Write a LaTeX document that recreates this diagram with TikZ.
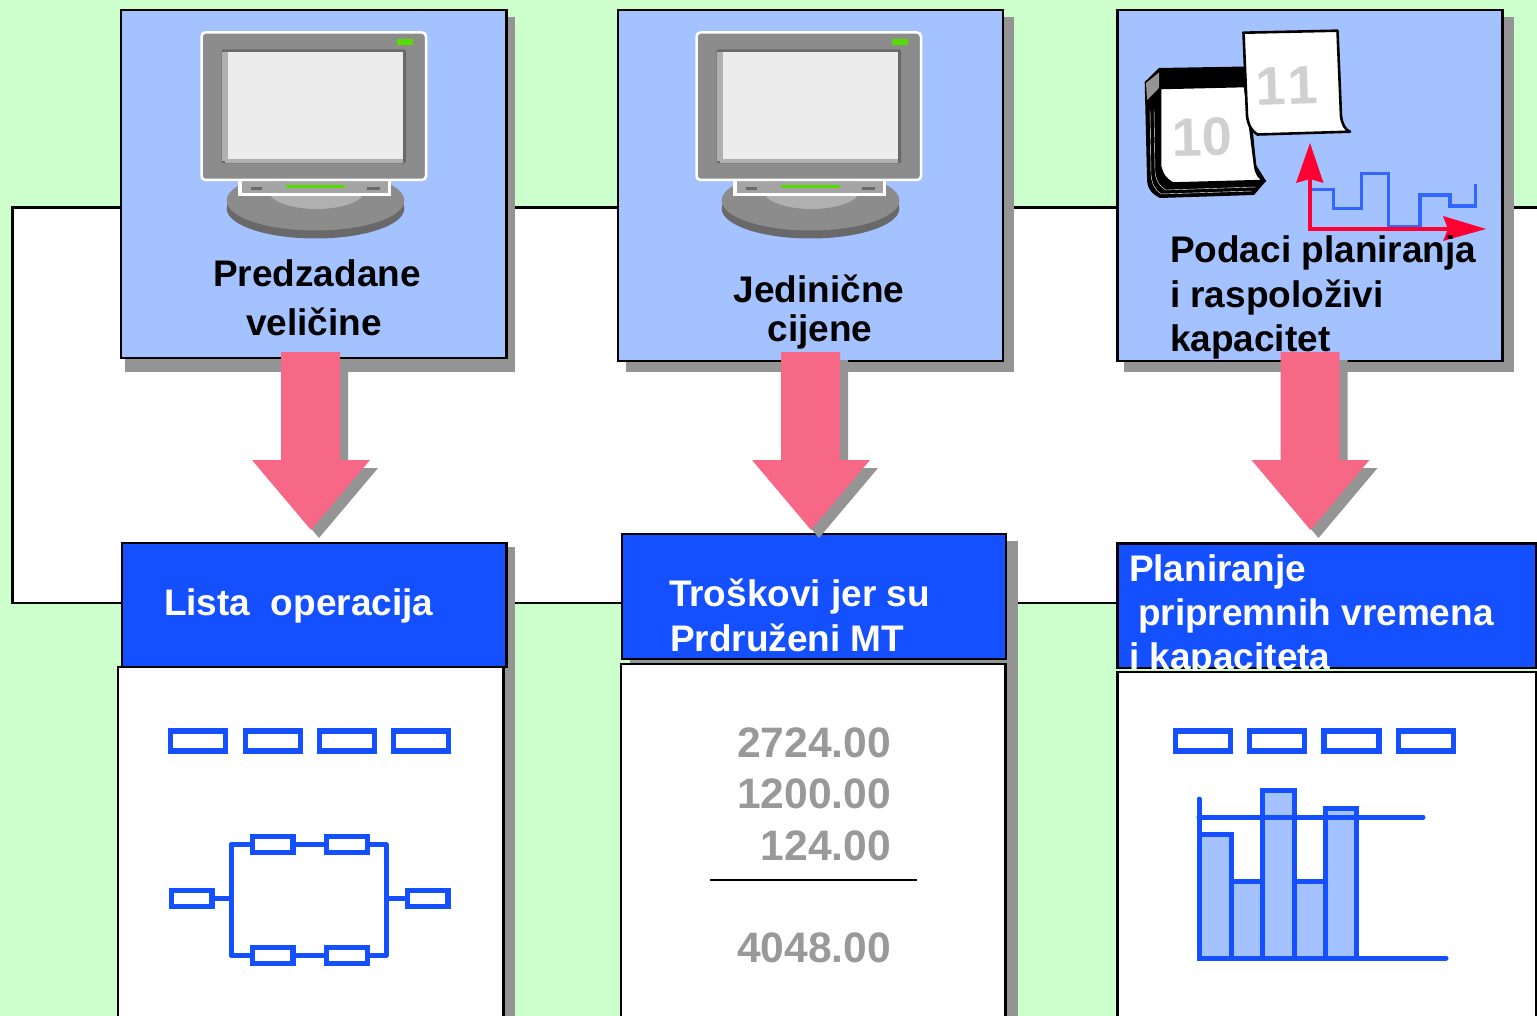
\documentclass[tikz,border=0pt]{standalone}
\usepackage{fontspec}
\setmainfont{Liberation Sans}
\definecolor{bggreen}{HTML}{CCFFCC}
\definecolor{panelblue}{HTML}{A3C2FF}
\definecolor{headblue}{HTML}{1450FF}
\definecolor{dropgray}{HTML}{949494}
\definecolor{pinkarrow}{HTML}{F76886}
\definecolor{stepblue}{HTML}{3366FF}
\definecolor{redaxis}{HTML}{FF0033}
\definecolor{mongray}{HTML}{8C8C8C}
\definecolor{mondark}{HTML}{696969}
\definecolor{monlight}{HTML}{B0B0B0}
\definecolor{monscreen}{HTML}{ECECEC}
\definecolor{ledgreen}{HTML}{55DD00}
\definecolor{numgray}{HTML}{999999}
\definecolor{daygray}{HTML}{D0D0D0}
\tikzset{
  panel/.style={draw=black,line width=1.3pt,fill=panelblue},
  header/.style={draw=black,line width=1.3pt,fill=headblue},
  sheet/.style={draw=black,line width=1.3pt,fill=white},
  shadowbox/.style={fill=dropgray,draw=none},
  label/.style={inner sep=0pt,outer sep=0pt,font=\bfseries\fontsize{18.5}{20}\selectfont},
  whitelabel/.style={label,text=white},
  numlabel/.style={inner sep=0pt,outer sep=0pt,text=numgray,font=\bfseries\fontsize{21.3}{24}\selectfont},
  daylabel/.style={inner sep=0pt,outer sep=0pt,text=daygray,font=\bfseries\fontsize{27}{28}\selectfont},
  tabbox/.style={draw=headblue,line width=2.9pt,fill=white,minimum width=27.5pt,minimum height=10pt,inner sep=0pt},
  netbox/.style={draw=headblue,line width=2.6pt,fill=white,minimum width=20.4pt,minimum height=8.2pt,inner sep=0pt},
  netline/.style={draw=headblue,line width=2.5pt},
  chartbar/.style={draw=headblue,line width=2.5pt,fill=panelblue},
  chartline/.style={draw=headblue,line width=2.5pt,line cap=round},
  pagesheet/.style={draw=black,line width=1.3pt,fill=white,line join=round},
}
\newcommand{\monitorpic}[1]{%
\begin{scope}[shift={(#1,0)}]
  \fill[mondark] (315.5,208.5) ellipse [x radius=88.8,y radius=30];
  \fill[mongray] (315.5,200.5) ellipse [x radius=88.8,y radius=30];
  \fill[monlight] (316.5,190) ellipse [x radius=48.5,y radius=19];
  \fill[white] (238.3,178) rectangle (390.7,195.7);
  \fill[dropgray!85!white] (241.5,178) rectangle (387.5,193.3);
  \fill[ledgreen] (286,185) rectangle (345,187.7);
  \fill[mondark] (251,187) rectangle (262,190);
  \fill[mondark] (367,187) rectangle (380,190);
  \draw[white,line width=1.25pt,fill=mongray,rounded corners=2pt] (201.5,32.5) rectangle (426,180);
  \fill[mondark,rounded corners=1pt] (221.7,49.3) rectangle (406,163.3);
  \fill[monlight] (221.7,52.3) rectangle (227.7,161);
  \fill[monlight] (225,159) rectangle (402.7,163);
  \fill[monscreen] (227.7,52.3) rectangle (402.7,159.3);
  \fill[ledgreen] (396.7,39) rectangle (413.3,45);
\end{scope}}
\newcommand{\bigarrow}[1]{%
\begin{scope}[shift={(#1,0)}]
  \fill[dropgray] (289,360) -- (348,360) -- (348,468) -- (378,468) -- (319,538) -- (260,468) -- (289,468) -- cycle;
  \fill[pinkarrow] (281,352) -- (340,352) -- (340,460) -- (370,460) -- (311,530) -- (252,460) -- (281,460) -- cycle;
\end{scope}}
\begin{document}
\begin{tikzpicture}[x=0.5pt,y=-0.5pt]
\useasboundingbox (0,0) rectangle (1537,1016);
\fill[bggreen] (0,0) rectangle (1537,1016);
\draw[black,line width=1.25pt,fill=white] (1560,207.5) -- (12.5,207.5) -- (12.5,603) -- (1560,603);

% shadows
\fill[shadowbox] (125,17) rectangle (515,372);
\fill[shadowbox] (626,17) rectangle (1014,372);
\fill[shadowbox] (1124,17) rectangle (1514,372);
\fill[shadowbox] (129,547) rectangle (515,1016);
\fill[shadowbox] (630,541) rectangle (1018,1016);

% upper panels
\draw[panel] (121,10) rectangle (506.5,358);
\draw[panel] (618,10) rectangle (1003,361);
\draw[panel] (1117.5,10) rectangle (1502.5,361);

\monitorpic{0}
\monitorpic{495}

% calendar
\fill[black,line join=round] (1144.7,82) -- (1159,68) -- (1247,66.5) -- (1256,165) -- (1266,181) -- (1254,195) -- (1160,198) .. controls (1150,193) and (1147,187) .. (1147,178) -- cycle;
\fill[dropgray] (1146,83) -- (1159,72.5) -- (1159,88) -- (1147,100) -- cycle;
\draw[white,line width=0.2pt] (1150,110) -- (1151,175) .. controls (1152,184) and (1155,190) .. (1161,194) -- (1252,191);
\draw[white,line width=0.2pt] (1154,110) -- (1155,172) .. controls (1156,181) and (1160,187) .. (1166,190) -- (1256,187);
\draw[pagesheet] (1160,88) -- (1245,86) -- (1255,165) .. controls (1256,174) and (1260,179) .. (1265,181) -- (1173,183.5) .. controls (1166,180) and (1162,175) .. (1160,166) -- cycle;
\node[daylabel,anchor=base west,rotate=1] (dayten) at (1172,156.5) {10};
\draw[pagesheet] (1243.5,32.7) -- (1337.5,30.7) -- (1341,116) .. controls (1342,124) and (1345,130) .. (1350,131.7) -- (1257.5,134.5) .. controls (1251,131) and (1248,124) .. (1247,116) -- cycle;
\node[daylabel,anchor=base west,rotate=2] (dayeleven) at (1256,106) {1\kern1.5pt 1};

% step line and axes
\draw[stepblue,line width=1.6pt] (1311.7,189.3) -| (1333.3,208.3) -| (1361.7,173.3) -| (1388.3,226.7) -| (1420,195) -| (1450,206) -| (1475.7,184.3);
\draw[redaxis,line width=1.6pt] (1310,170) -- (1310,229) -- (1460,229);
\fill[redaxis] (1310,143) -- (1323.5,183) -- (1310,179) -- (1296,183) -- cycle;
\fill[redaxis] (1486,229) -- (1443,241) -- (1448,229) -- (1443,216) -- cycle;

% panel labels
\node[label,anchor=base] (predzadane) at (317,286.5) {Predzadane};
\node[label,anchor=base] (velicine) at (314,335.5) {veličine};
\node[label,anchor=base] (jedinicne) at (819,303) {Jedinične};
\node[label,anchor=base] (cijene) at (820,342) {cijene};
\node[label,anchor=base west] (podaci) at (1170,263) {Podaci planiranja};
\node[label,anchor=base west] (raspolozivi) at (1170,307.5) {i raspoloživi};
\node[label,anchor=base west] (kapacitet) at (1170,351.5) {kapacitet};

% sheets and headers
\draw[sheet] (118,667) rectangle (503.5,1030);
\draw[header] (122,543) rectangle (506.5,667);
\draw[sheet] (621,664) rectangle (1005.5,1030);
\draw[header] (622,534) rectangle (1006,659);
\draw[header] (1117.5,543.5) rectangle (1535.8,668);
\node[whitelabel,anchor=base west] (lista) at (164,615) {Lista\ \ operacija};
\node[whitelabel,anchor=base west] (troskovi) at (669,606) {Troškovi jer su};
\node[whitelabel,anchor=base west] (prdruzeni) at (670,651) {Prdruženi MT};
\node[whitelabel,anchor=base west] (planiranje) at (1129,581) {Planiranje};
\node[whitelabel,anchor=base west] (pripremnih) at (1138,625) {pripremnih vremena};
\node[whitelabel,anchor=base west] (ikap) at (1129,669) {i kapaciteta};
\draw[sheet] (1117.5,672) rectangle (1535.8,1030);

% tab boxes, left
\node[tabbox] (la) at (198,741) {};
\node[tabbox] (lb) at (273,741) {};
\node[tabbox] (lc) at (347,741) {};
\node[tabbox] (ld) at (421,741) {};

% network
\node[netbox] (ns) at (191.5,898.5) {};
\node[netbox] (ne) at (427.5,898.5) {};
\node[netbox] (ta) at (272.5,844.5) {};
\node[netbox] (tb) at (347,844.5) {};
\node[netbox] (ba) at (272.5,955.5) {};
\node[netbox] (bb) at (347,955.5) {};
\coordinate (jl) at (231,898.5);
\coordinate (jr) at (386,898.5);
\draw[netline] (ns) -- (jl);
\draw[netline] (jr) -- (ne);
\draw[netline,line join=round] (ta.west) -| (jl) |- (ba.west);
\draw[netline,line join=round] (tb.east) -| (jr) |- (bb.east);
\draw[netline] (ta) -- (tb);
\draw[netline] (ba) -- (bb);

% numbers
\node[numlabel,anchor=base east] (na) at (891,757) {2724.00};
\node[numlabel,anchor=base east] (nb) at (891,808) {1200.00};
\node[numlabel,anchor=base east] (nc) at (891,860) {124.00};
\node[numlabel,anchor=base east] (nd) at (891,962) {4048.00};
\coordinate (suml) at (710,880);
\coordinate (sumr) at (917,880);
\draw[black,line width=1pt] (suml) -- (sumr);

% tab boxes, right
\node[tabbox] (ra) at (1203,741) {};
\node[tabbox] (rb) at (1277,741) {};
\node[tabbox] (rc) at (1351.5,741) {};
\node[tabbox] (rd) at (1426,741) {};

% bar chart
\draw[chartbar] (1199.5,834) rectangle (1231,958);
\draw[chartbar] (1231,881.5) rectangle (1262,958);
\draw[chartbar] (1262,790.5) rectangle (1294,958);
\draw[chartbar] (1294,881.5) rectangle (1325,958);
\draw[chartbar] (1325,808) rectangle (1356,958);
\draw[chartline] (1199,817) -- (1423,817);
\draw[chartline] (1199,799) -- (1199,958) -- (1446,958);

\bigarrow{0}
\bigarrow{500}
\bigarrow{999.5}
\end{tikzpicture}
\end{document}
